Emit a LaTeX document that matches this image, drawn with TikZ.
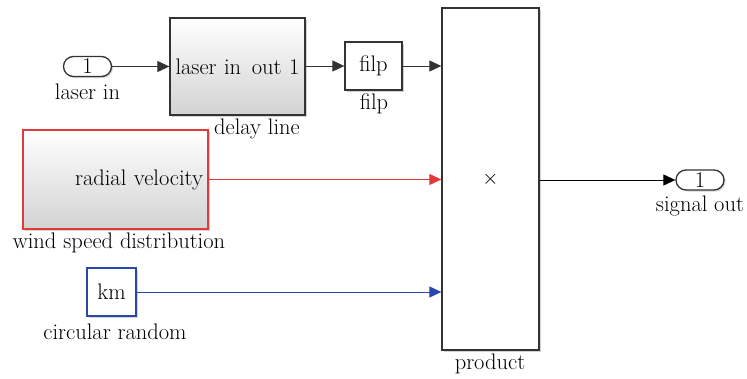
\documentclass[tikz,border=0pt]{standalone}
\usetikzlibrary{arrows.meta,shadows}
\definecolor{redc}{HTML}{E03A3A}
\definecolor{bluec}{HTML}{2A48A8}
\definecolor{edge}{HTML}{333333}
\tikzset{
  every node/.style={font=\fontsize{22.5}{24}\selectfont, text=black},
  blk/.style={draw=edge, line width=1.3pt, inner sep=0pt, minimum width=#1},
  grad/.style={top color=white, bottom color=gray!35},
  shd/.style={drop shadow={shadow xshift=1.5pt, shadow yshift=-1.5pt, opacity=0.35, fill=gray}},
  port/.style={draw=edge, line width=1.3pt, rounded corners=10pt, minimum width=48pt, minimum height=20pt, inner sep=0pt, fill=white, shd},
  lbl/.style={anchor=base, inner sep=0pt},
  sig/.style={line width=1pt, -{Triangle[length=12pt,width=11pt]}},
}
\begin{document}
\begin{tikzpicture}[x=1pt,y=-1pt]
\useasboundingbox (0,0) rectangle (747,378);
% blocks
\node[port] (in1) at (87.5,66.5) {1};
\node[lbl] (in1l) at (87.5,99) {laser in};
\node[blk=135pt, minimum height=97pt, grad, shd, text width=124pt, align=left] (delay) at (237.5,66.5) {laser in\hfill out 1};
\node[lbl] (delayl) at (257,134) {delay line};
\node[blk=57pt, minimum height=48pt, fill=white, shd] (filp) at (373.5,66) {filp};
\node[lbl] (filpl) at (374,109) {filp};
\node[blk=97pt, minimum height=342pt, fill=white, shd] (prod) at (490.5,179) {$\times$};
\node[lbl] (prodl) at (490,369) {product};
\node[blk=185pt, minimum height=99pt, draw=redc, grad, shd, text width=175pt, align=right] (wind) at (115.5,179.5) {radial velocity};
\node[lbl] (windl) at (119,248) {wind speed distribution};
\node[blk=49pt, minimum height=48pt, draw=bluec, fill=white, shd] (km) at (111.5,292) {km};
\node[lbl] (kml) at (115,339) {circular random};
\node[port] (out1) at (700,180) {1};
\node[lbl] (out1l) at (700,211) {signal out};
% connectors
\coordinate (p1) at (prod.west |- filp.east);
\coordinate (p2) at (prod.west |- wind.east);
\coordinate (p3) at (prod.west |- km.east);
\draw[sig, edge] (in1.east) -- (delay.west |- in1.east);
\draw[sig, edge] (delay.east |- filp.west) -- (filp.west);
\draw[sig, edge] (filp.east) -- (p1);
\draw[sig, redc] (wind.east) -- (p2);
\draw[sig, bluec] (km.east) -- (p3);
\draw[sig, black] (prod.east |- out1.west) -- (out1.west);
\end{tikzpicture}
\end{document}
